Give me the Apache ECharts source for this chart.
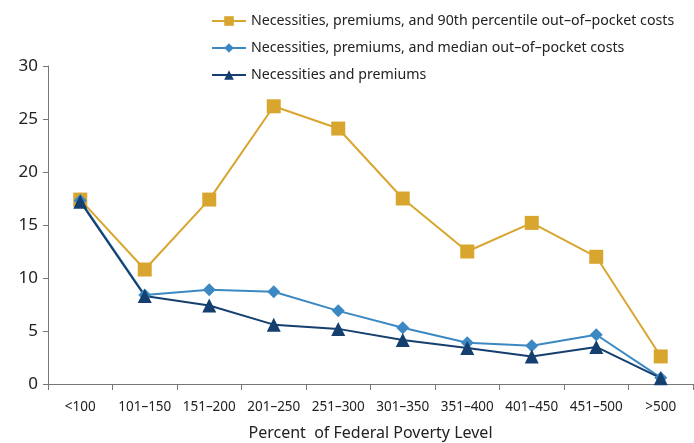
<!DOCTYPE html>
<html><head><meta charset="utf-8">
<script src="https://cdn.jsdelivr.net/npm/echarts@6/dist/echarts.min.js"></script>
<style>html,body{margin:0;padding:0;background:#fff}#c{width:694px;height:443px}</style>
</head><body><div id="c"></div>
<script>
const categories = ['<100','101–150','151–200','201–250','251–300','301–350','351–400','401–450','451–500','>500'];
const p90 = [17.4, 10.8, 17.4, 26.2, 24.1, 17.5, 12.5, 15.2, 12.0, 2.6];
const median = [17.3, 8.4, 8.9, 8.7, 6.9, 5.3, 3.9, 3.6, 4.65, 0.6];
const base = [17.2, 8.3, 7.4, 5.6, 5.2, 4.15, 3.4, 2.6, 3.5, 0.55];
const yTicks = [0, 5, 10, 15, 20, 25, 30];
const names = ['Necessities, premiums, and 90th percentile out–of–pocket costs','Necessities, premiums, and median out–of–pocket costs','Necessities and premiums'];
const font = 'Noto Sans';
const chart = echarts.init(document.getElementById('c'));
chart.setOption({
  animation:false,
  textStyle:{fontFamily:font},
  legend:{orient:'vertical',left:206,top:9,itemGap:13,itemWidth:34,itemHeight:12,
    textStyle:{fontFamily:font,fontSize:14.2,color:'#222'},
    data:names},
  grid:{left:48,right:1,top:66,bottom:59,containLabel:false,outerBoundsMode:'none'},
  xAxis:{type:'category',data:categories,boundaryGap:true,
    axisLine:{lineStyle:{color:'#777',width:1}},
    axisTick:{show:true,length:6,lineStyle:{color:'#777'},alignWithLabel:false},
    axisLabel:{fontFamily:font,fontSize:13.5,color:'#222',margin:16,interval:0},
    name:'Percent  of Federal Poverty Level',nameLocation:'middle',nameGap:41,
    nameTextStyle:{fontFamily:font,fontSize:16,color:'#222'}},
  yAxis:{type:'value',min:0,max:30,interval:5,
    splitLine:{show:false},
    axisLine:{show:true,lineStyle:{color:'#777'}},
    axisTick:{show:true,length:5,lineStyle:{color:'#777'}},
    axisLabel:{fontFamily:font,fontSize:17,color:'#222',margin:10,
      formatter:v=>yTicks.includes(v)?String(v):''}},
  series:[
    {name:names[0],type:'line',data:p90,symbol:'rect',symbolSize:14,
      lineStyle:{color:'#D8A62F',width:2},itemStyle:{color:'#D8A62F'}},
    {name:names[1],type:'line',data:median,symbol:'diamond',symbolSize:13,
      lineStyle:{color:'#3C88C2',width:2},itemStyle:{color:'#3C88C2'}},
    {name:names[2],type:'line',data:base,symbol:'triangle',symbolSize:14,
      lineStyle:{color:'#153F6E',width:2},itemStyle:{color:'#153F6E'}}
  ]
});
</script></body></html>
